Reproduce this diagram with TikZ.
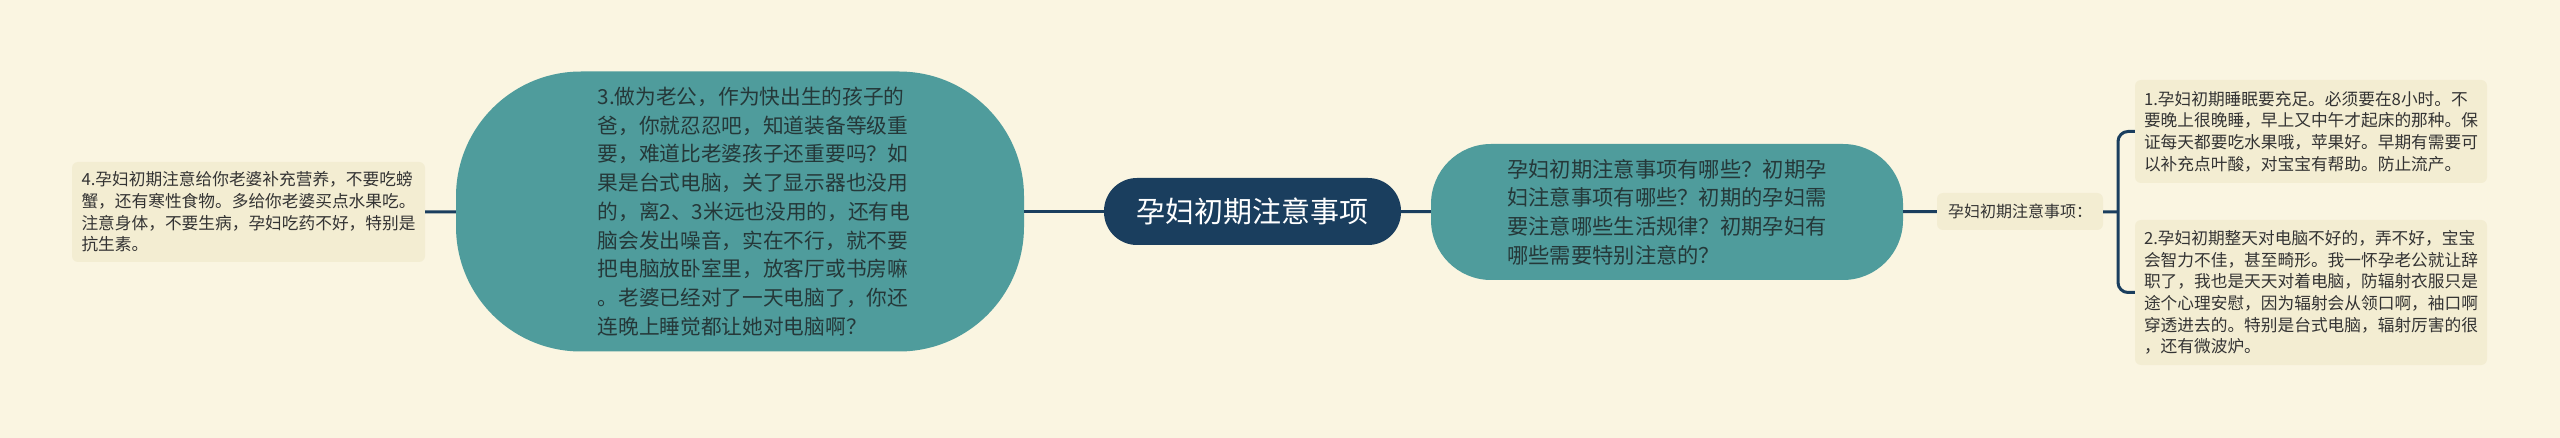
\documentclass[tikz,border=0pt]{standalone}
\usepackage{fontspec}
\setmainfont{Noto Sans CJK SC}

\definecolor{paper}{HTML}{FAF5E1}
\definecolor{navy}{HTML}{1A3E5E}
\definecolor{pillfill}{HTML}{4F9C9C}
\definecolor{pilltext}{HTML}{253839}
\definecolor{leafbg}{HTML}{F3EDD2}
\definecolor{leaftext}{HTML}{333333}

\begin{document}
\begin{tikzpicture}[x=1pt,y=-1pt,
 link/.style={draw=navy, line width=3pt},
 hub/.style={fill=navy, text=white, rounded corners=33pt, minimum width=297pt, minimum height=67pt, font=\fontsize{29}{34}\selectfont},
 pill/.style={fill=pillfill, text=pilltext, align=left, font=\fontsize{21.3}{28.75}\selectfont},
 leaf/.style={fill=leafbg, text=leaftext, rounded corners=6pt, align=left, font=\fontsize{16.7}{21.6}\selectfont}]

\fill[paper] (0,0) rectangle (2560,438);
\useasboundingbox (0,0) rectangle (2560,438);


 \node[hub] (topic) at (1252.5,211.5) {孕妇初期注意事项};

 \node[pill, rounded corners=125pt, minimum width=568pt, minimum height=280pt,
  label={[pill, fill=none, xshift=14pt, font=\fontsize{20.7}{28.75}\selectfont]center:3.做为老公，作为快出生的孩子的\\爸，你就忍忍吧，知道装备等级重\\要，难道比老婆孩子还重要吗？如\\果是台式电脑，关了显示器也没用\\的，离2、3米远也没用的，还有电\\脑会发出噪音，实在不行，就不要\\把电脑放卧室里，放客厅或书房嘛\\。老婆已经对了一天电脑了，你还\\连晚上睡觉都让她对电脑啊？}] (husband) at (740,211.5) {};

 \node[leaf, minimum width=353pt, minimum height=100pt] (diet) at (248.5,212) {4.孕妇初期注意给你老婆补充营养，不要吃螃\\蟹，还有寒性食物。多给你老婆买点水果吃。\\注意身体，不要生病，孕妇吃药不好，特别是\\抗生素。};

 \node[pill, rounded corners=60pt, minimum width=472pt, minimum height=136pt] (question) at (1667,212) {孕妇初期注意事项有哪些？初期孕\\妇注意事项有哪些？初期的孕妇需\\要注意哪些生活规律？初期孕妇有\\哪些需要特别注意的？};

 \node[leaf, minimum width=166pt, minimum height=37pt, font=\fontsize{16}{20}\selectfont] (label) at (2020,211.5) {孕妇初期注意事项：};

 \node[leaf, minimum width=352pt, minimum height=103pt] (sleep) at (2311,131.5) {1.孕妇初期睡眠要充足。必须要在8小时。不\\要晚上很晚睡，早上又中午才起床的那种。保\\证每天都要吃水果哦，苹果好。早期有需要可\\以补充点叶酸，对宝宝有帮助。防止流产。};

 \node[leaf, minimum width=352pt, minimum height=145pt] (computer) at (2311,292.5) {2.孕妇初期整天对电脑不好的，弄不好，宝宝\\会智力不佳，甚至畸形。我一怀孕老公就让辞\\职了，我也是天天对着电脑，防辐射衣服只是\\途个心理安慰，因为辐射会从领口啊，袖口啊\\穿透进去的。特别是台式电脑，辐射厉害的很\\，还有微波炉。};

\coordinate (fork) at (2118,212);

\draw[link] (diet) -- (husband);
\draw[link] (husband) -- (topic);
\draw[link] (topic) -- (question);
\draw[link] (question) -- (label);
\draw[link] (label) -- (fork);
\draw[link, rounded corners=10pt] (sleep.west) -| (fork) |- (computer.west);

\end{tikzpicture}
\end{document}
